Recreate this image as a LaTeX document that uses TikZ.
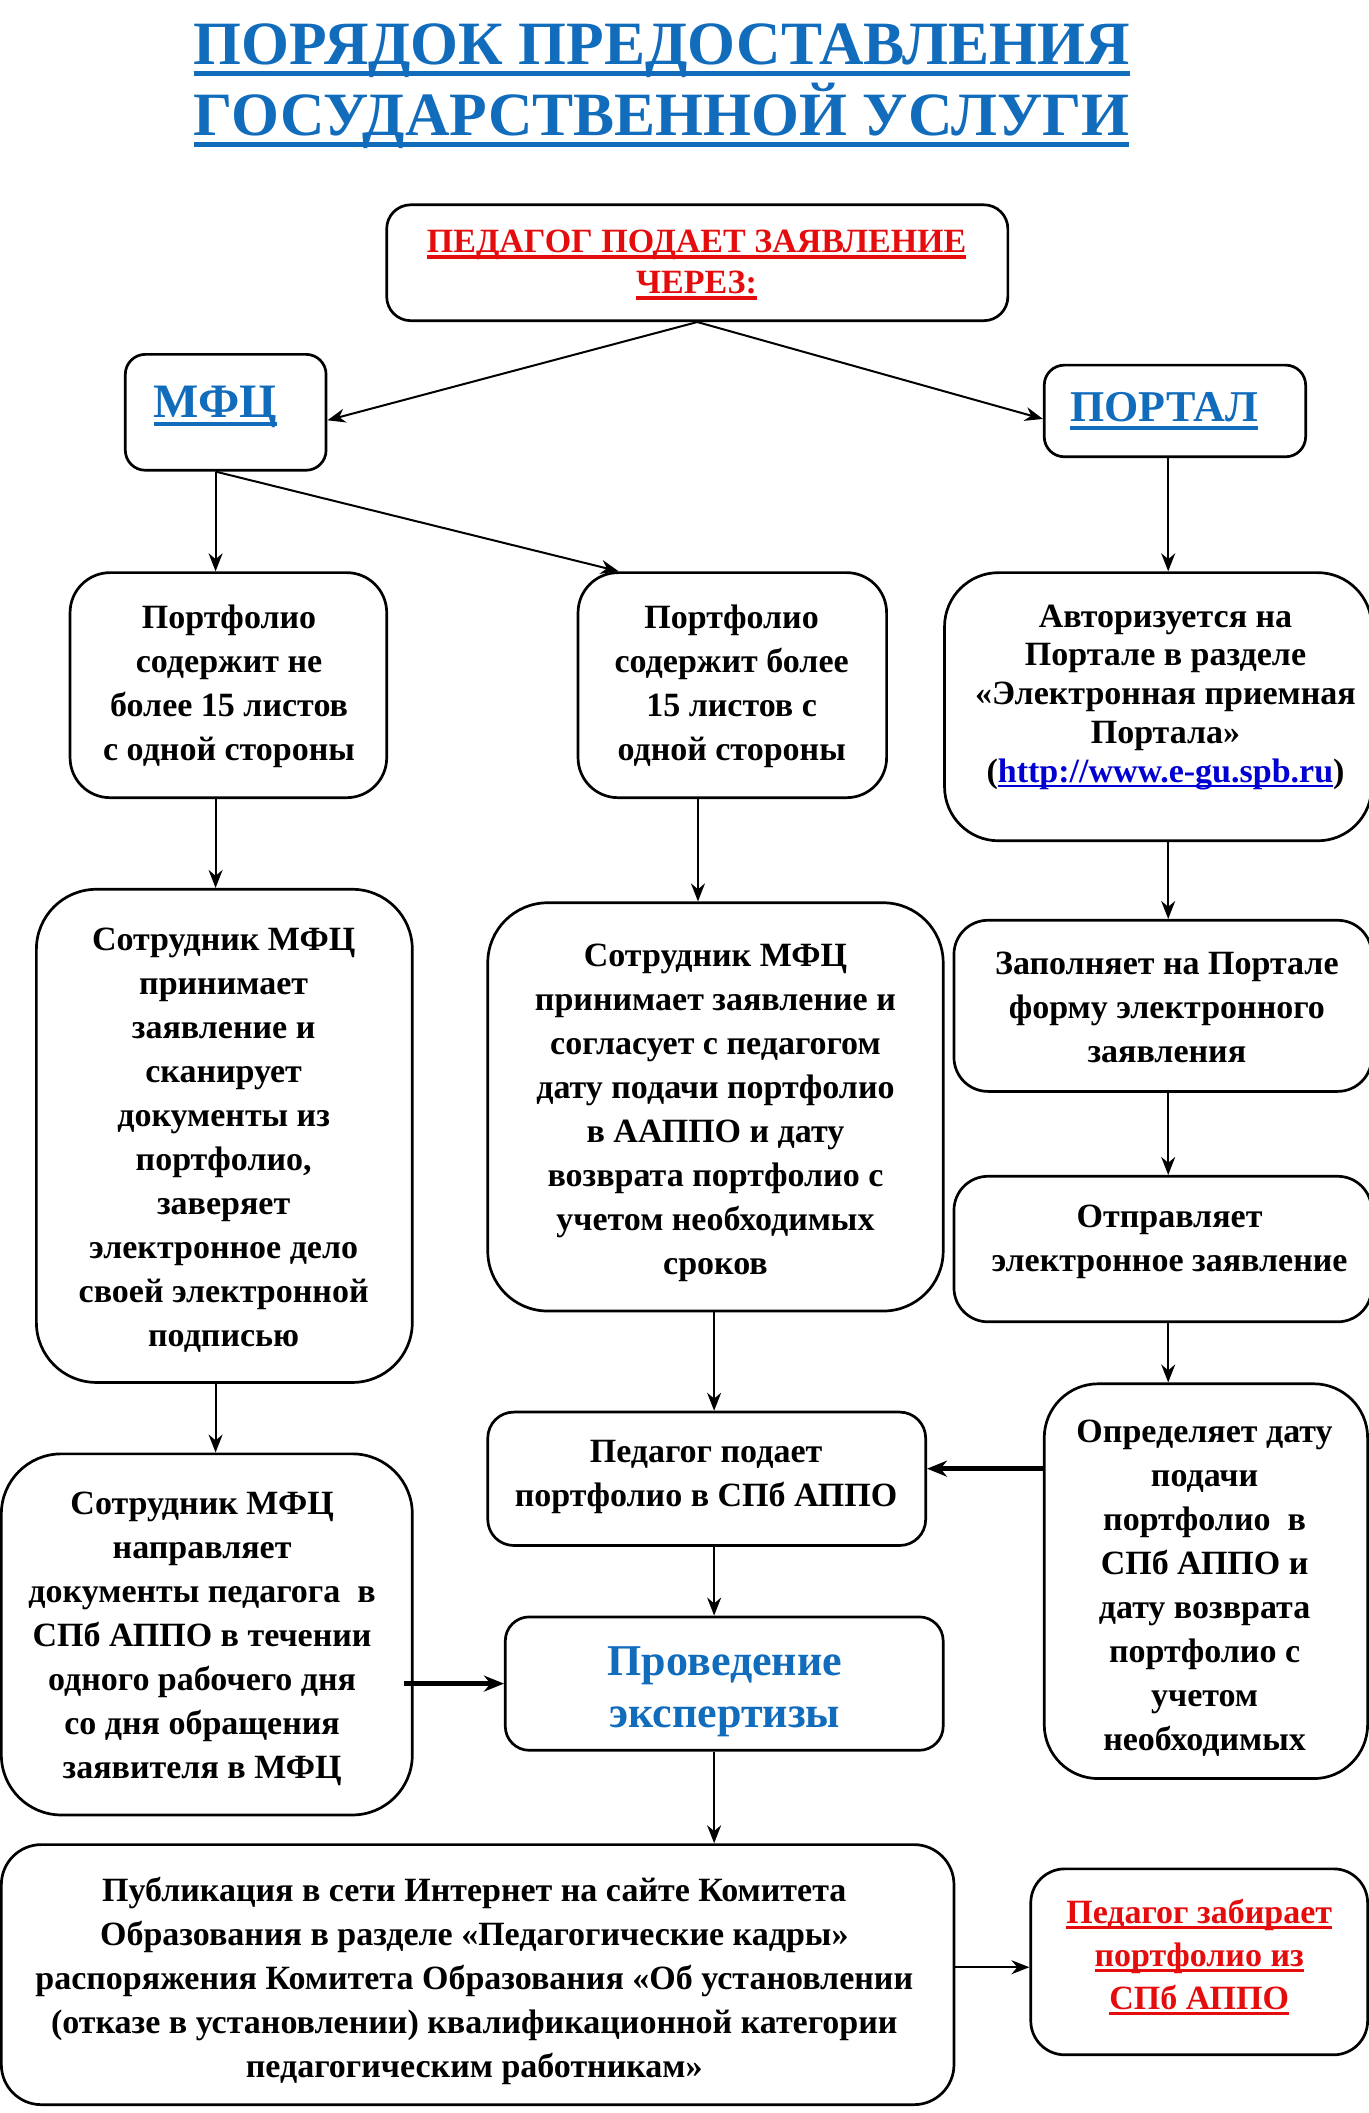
\documentclass[tikz,border=0pt]{standalone}
\usepackage{fontspec}
\setmainfont{Liberation Serif}
\usetikzlibrary{fit,arrows.meta}
\definecolor{tblue}{RGB}{18,108,188}
\definecolor{tred}{RGB}{228,12,12}
\definecolor{lblue}{RGB}{0,0,210}
\newsavebox\ulb
\newcommand\ulbox[3]{\sbox\ulb{#3}\leavevmode\rlap{\rule[-#2]{\wd\ulb}{#1}}\usebox\ulb}
\newcommand\bodyf{\fontsize{17}{22}\selectfont\bfseries}
\newcommand\titul[1]{\ulbox{2.5pt}{5.8pt}{#1}}
\newcommand\redul[1]{\ulbox{1.6pt}{3pt}{#1}}
\newcommand\urlul[1]{\ulbox{1pt}{2.5pt}{#1}}
\begin{document}
\begin{tikzpicture}[x=0.67372pt, y=-0.67372pt,
  box/.style={draw, line width=1.35pt, inner sep=0pt, rounded corners=#1},
  box/.default=14pt,
  txt/.style={inner sep=0pt, align=center, font=\bodyf},
  arr/.style={-{Stealth[length=9pt,width=7pt]}, line width=1pt},
  tarr/.style={-{Stealth[length=10pt,width=8pt]}, line width=2.3pt}]
\useasboundingbox (0,0) rectangle (1016,1568.2);

% title
\node[inner sep=0pt, text=tblue, align=center,
      font=\fontsize{30.8}{35.2}\selectfont\bfseries] (title) at (491,64)
  {\titul{ПОРЯДОК ПРЕДОСТАВЛЕНИЯ}\\\titul{ГОСУДАРСТВЕННОЙ УСЛУГИ}};

% boxes
\node[box=12pt, fit={(287,152) (748,238)}] (top) {};
\node[box=10pt, fit={(93,263) (242,349)}] (mfc) {};
\node[box=10pt, fit={(775,271) (969,339)}] (portal) {};
\node[box=20pt, fit={(52,425) (287,592)}] (A) {};
\node[box=20pt, fit={(429,425) (658,592)}] (B) {};
\node[box=27pt, fit={(701,425) (1018,624)}] (C) {};
\node[box=30pt, fit={(27,660) (306,1026)}] (D) {};
\node[box=30pt, fit={(362,670) (700,973)}] (E) {};
\node[box=17pt, fit={(708,683) (1018,810)}] (F) {};
\node[box=17pt, fit={(708,873) (1018,981)}] (G) {};
\node[box=27pt, fit={(775,1027) (1015,1320)}] (H) {};
\node[box=13pt, fit={(362,1048) (687,1147)}] (I) {};
\node[box=30pt, fit={(1,1079) (306,1347)}] (J) {};
\node[box=12pt, fit={(375,1200) (700,1299)}] (K) {};
\node[box=20pt, fit={(1,1369) (708,1562)}] (L) {};
\node[box=17pt, fit={(765,1387) (1015,1525)}] (M) {};

% texts
\node[txt, text=tred, font=\fontsize{17}{20.5}\selectfont\bfseries] (topt) at (517,196.5)
  {\redul{ПЕДАГОГ ПОДАЕТ ЗАЯВЛЕНИЕ}\\\redul{ЧЕРЕЗ:}};
\node[inner sep=0pt, anchor=base, text=tblue, font=\fontsize{24}{28}\selectfont\bfseries] (mfct) at (160,310)
  {\ulbox{2pt}{4pt}{МФЦ}};
\node[inner sep=0pt, anchor=base, text=tblue, font=\fontsize{22}{26}\selectfont\bfseries] (portalt) at (864,313)
  {\ulbox{2pt}{4pt}{ПОРТАЛ}};
\node[txt] (At) at (170,509) {Портфолио\\содержит не\\более 15 листов\\с одной стороны};
\node[txt] (Bt) at (543,509) {Портфолио\\содержит более\\15 листов с\\одной стороны};
\node[txt, font=\fontsize{17}{19.4}\selectfont\bfseries] (Ct) at (865,517.5)
  {Авторизуется на\\Портале в разделе\\«Электронная приемная\\Портала»\\(\textcolor{lblue}{\urlul{http://www.e-gu.spb.ru}})};
\node[txt] (Dt) at (166,846.5) {Сотрудник МФЦ\\принимает\\заявление и\\сканирует\\документы из\\портфолио,\\заверяет\\электронное дело\\своей электронной\\подписью};
\node[txt] (Et) at (531,826) {Сотрудник МФЦ\\принимает заявление и\\согласует с педагогом\\дату подачи портфолио\\в ААППО и дату\\возврата портфолио с\\учетом необходимых\\сроков};
\node[txt] (Ft) at (866,747.5) {Заполняет на Портале\\форму электронного\\заявления};
\node[txt] (Gt) at (868,922) {Отправляет\\электронное заявление};
\node[txt] (Ht) at (894,1179) {Определяет дату\\подачи\\портфолио\ \ в\\СПб АППО и\\дату возврата\\портфолио с\\учетом\\необходимых};
\node[txt] (It) at (524,1096) {Педагог подает\\портфолио в СПб АППО};
\node[txt] (Jt) at (150,1216.5) {Сотрудник МФЦ\\направляет\\документы педагога\ \ в\\СПб АППО в течении\\одного рабочего дня\\со дня обращения\\заявителя в МФЦ};
\node[txt, text=tblue, font=\fontsize{22}{25.6}\selectfont\bfseries] (Kt) at (538,1255.5) {Проведение\\экспертизы};
\node[txt] (Lt) at (352,1470) {Публикация в сети Интернет на сайте Комитета\\Образования в разделе «Педагогические кадры»\\распоряжения Комитета Образования «Об установлении\\(отказе в установлении) квалификационной категории\\педагогическим работникам»};
\node[txt, text=tred, font=\fontsize{17}{21.5}\selectfont\bfseries] (Mt) at (890,1452.5)
  {\redul{Педагог забирает}\\\redul{портфолио из}\\\redul{СПб АППО}};

% column / row helpers
\coordinate (c1) at (160,0);
\coordinate (c2) at (518,0);
\coordinate (c3) at (867,0);
\coordinate (c4) at (530,0);
\coordinate (r1) at (0,1090);
\coordinate (r2) at (0,1460);

% connectors
\draw[arr] (top.south) -- ([yshift=-4pt]mfc.east);
\draw[arr] (top.south) -- ([yshift=-4pt]portal.west);
\draw[arr] (mfc.south -| c1) -- (A.north -| c1);
\draw[arr] (mfc.south -| c1) -- ([xshift=21pt]B.north west);
\draw[arr] (portal.south -| c3) -- (C.north -| c3);
\draw[arr] (A.south -| c1) -- (D.north -| c1);
\draw[arr] (B.south -| c2) -- (E.north -| c2);
\draw[arr] (C.south -| c3) -- (F.north -| c3);
\draw[arr] (F.south -| c3) -- (G.north -| c3);
\draw[arr] (G.south -| c3) -- (H.north -| c3);
\draw[arr] (E.south -| c4) -- (I.north -| c4);
\draw[arr] (D.south -| c1) -- (J.north -| c1);
\draw[tarr] (H.west |- r1) -- (I.east |- r1);
\draw[arr] (I.south -| c4) -- (K.north -| c4);
\draw[tarr] ([xshift=-5pt]J.east |- K.west) -- (K.west);
\draw[arr] (K.south -| c4) -- (L.north -| c4);
\draw[arr] (L.east |- r2) -- (M.west |- r2);
\end{tikzpicture}
\end{document}
